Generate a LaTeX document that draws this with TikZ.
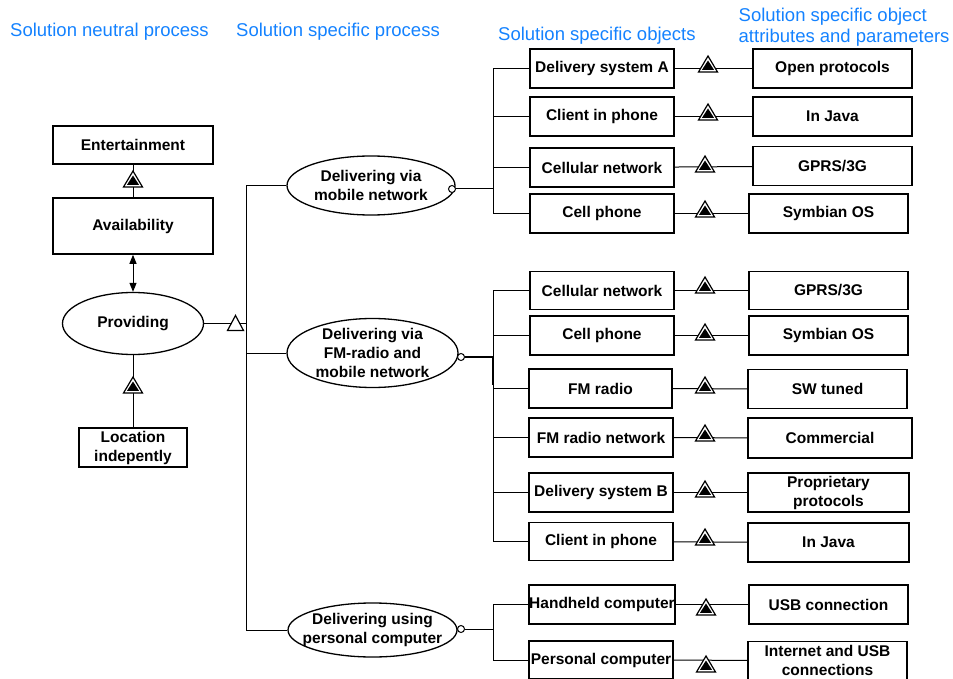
\documentclass[tikz,border=0pt]{standalone}
\usepackage{fontspec}
\setmainfont{Liberation Sans}
\usetikzlibrary{shapes.geometric,arrows.meta}
\definecolor{headblue}{RGB}{20,130,255}

\tikzset{
  % aggregation marker: open triangle holding a filled one (origin = base centre)
  agg/.pic={
    \draw[line width=1.2pt, fill=white] (-9.5,0) -- (9.5,0) -- (0,-16) -- cycle;
    \fill (-6,-2.2) -- (6,-2.2) -- (0,-11.5) -- cycle;
  },
  % generalisation marker: plain open triangle (origin = base centre)
  gen/.pic={
    \draw[line width=1.2pt, fill=white] (-8,0) -- (8,0) -- (0,-15) -- cycle;
  },
}

\begin{document}
\begin{tikzpicture}[x=1pt, y=-1pt,
  every node/.style={inner sep=0pt},
  lbl/.style={font=\bfseries\fontsize{15.5}{19}\selectfont, align=center},
  obj/.style={lbl, draw, line width=1.5pt, fill=white, minimum width=144pt, minimum height=39pt},
  attr/.style={obj, minimum width=159pt},
  proc/.style={lbl, ellipse, draw, line width=1.3pt, fill=white},
  head/.style={anchor=west, align=left, text=headblue, font=\fontsize{18.5}{21}\selectfont},
  conn/.style={line width=1pt},
  port/.style={circle, draw, line width=1pt, fill=white, minimum size=7pt},
  both tips/.style={{Triangle[length=9pt,width=7pt]}-{Triangle[length=9pt,width=7pt]}},
]
\useasboundingbox (0,0) rectangle (953,679);

% column headings
\node[head] (h1) at (10,32) {Solution neutral process};
\node[head] (h2) at (236,32) {Solution specific process};
\node[head] (h3) at (498,36) {Solution specific objects};
\node[head] (h4) at (738.5,27.5) {Solution specific object\\attributes and parameters};

% solution neutral process
\node[obj, minimum width=160pt, minimum height=38pt] (ent) at (133,145) {Entertainment};
\node[obj, minimum width=160pt, minimum height=56pt] (avail) at (133,226) {Availability};
\node[proc, minimum width=141pt, minimum height=62pt] (prov) at (133,323.5) {Providing};
\node[obj, minimum width=108pt, minimum height=39pt] (loc) at (133,447.5) {Location\\indepently};

\draw[conn] (avail) -- (ent);
\draw[conn, both tips] (avail) -- (prov);
\draw[conn] (loc) -- (prov);
\pic at (133,187) {agg};
\pic at (133,393) {agg};

% solution specific processes
\node[proc, minimum width=168pt, minimum height=59pt,
      label={[lbl]center:{Delivering via\\mobile network}}] (mob) at (371,185.5) {};
\node[proc, minimum width=171pt, minimum height=69pt,
      label={[lbl]center:{Delivering via\\FM-radio and\\mobile network}}] (fm) at (372.5,353) {};
\node[proc, minimum width=169pt, minimum height=54pt,
      label={[lbl]center:{Delivering using\\personal computer}}] (pc) at (372.5,630) {};

\coordinate (bus) at (246,0);
\draw[conn] (prov.east) -- (prov.east -| bus);
\draw[conn] (mob.west) -- (mob.west -| bus) -- (pc.west -| bus) -- (pc.west);
\draw[conn] (fm.west) -- (fm.west -| bus);
\pic at (235.5,330.5) {gen};

\node[port] (mobp) at (452,189) {};
\node[port] (fmp) at (461,357) {};
\node[port] (pcp) at (461,629) {};

% solution specific objects
\node[obj] (dsa)   at (602,68.5)  {Delivery system A};
\node[obj] (cip1)  at (602,116.5) {Client in phone};
\node[obj] (cell1) at (602,167.5) {Cellular network};
\node[obj] (cp1)   at (602,213.5) {Cell phone};

\node[obj, minimum height=38pt] (cell2) at (602,290.5) {Cellular network};
\node[obj] (cp2)   at (602,335.5) {Cell phone};
\node[obj, minimum width=143pt] (fmr) at (600.5,388.5) {FM radio};
\node[obj] (fmn)   at (601,437.5) {FM radio network};
\node[obj] (dsb)   at (601,492.5) {Delivery system B};
\node[obj, minimum height=38pt] (cip2) at (601,541.5) {Client in phone};

\node[obj] (hh)    at (602,604.5) {Handheld computer};
\node[obj, minimum height=38pt] (pcomp) at (601,660) {Personal computer};

% object attributes and parameters
\node[attr] (open)  at (832.5,68.5)  {Open protocols};
\node[attr] (java1) at (832.5,116.5) {In Java};
\node[attr] (gprs1) at (832.5,166)   {GPRS/3G};
\node[attr] (symb1) at (828.5,213.5) {Symbian OS};

\node[attr, minimum height=38pt] (gprs2) at (828.5,290.5) {GPRS/3G};
\node[attr] (symb2) at (828.5,335.5) {Symbian OS};
\node[attr] (swt)   at (827.5,389)   {SW tuned};
\node[attr, minimum width=164pt, minimum height=40pt] (comm) at (830,438) {Commercial};
\node[attr, minimum width=161pt] (prop) at (828.5,492.5) {Proprietary\\protocols};
\node[attr, minimum width=161pt] (java2) at (828.5,542.5) {In Java};

\node[attr] (usb)  at (828.5,604.5) {USB connection};
\node[attr, minimum height=38pt] (inet) at (827.5,660.5) {Internet and USB\\connections};

% object busses
\coordinate (obus) at (493,0);
\draw[conn] (mobp.east) -- (mobp.east -| obus);
\draw[conn] (dsa.west) -- (dsa.west -| obus) -- (cp1.west -| obus) -- (cp1.west);
\foreach \o in {cip1,cell1} \draw[conn] (\o.west) -- (\o.west -| obus);

\draw[conn] (cell2.west) -- (cell2.west -| obus) -- (cip2.west -| obus) -- (cip2.west);
\foreach \o in {cp2,fmr,fmn,dsb} \draw[conn] (\o.west) -- (\o.west -| obus);
\draw[line width=2pt] (fmp.east) -- (fmp.east -| obus) -- ([yshift=4pt]fmr.west -| obus);

\draw[conn] (pcp.east) -- (pcp.east -| obus);
\draw[conn] (hh.west) -- (hh.west -| obus) -- (pcomp.west -| obus) -- (pcomp.west);

% object to attribute links with aggregation markers
\foreach \o/\a/\mx/\my in {dsa/open/708/72, cip1/java1/708/120, cell1/gprs1/705/172, cp1/symb1/705/217,
    cell2/gprs2/705/293, cp2/symb2/705/340, fmr/swt/705/393, fmn/comm/705/441,
    dsb/prop/705/497, cip2/java2/705/545, hh/usb/706/615, pcomp/inet/706/672} {
  \draw[conn] (\o) -- (\a);
  \pic at (\mx,\my) {agg};
}
\end{tikzpicture}
\end{document}
